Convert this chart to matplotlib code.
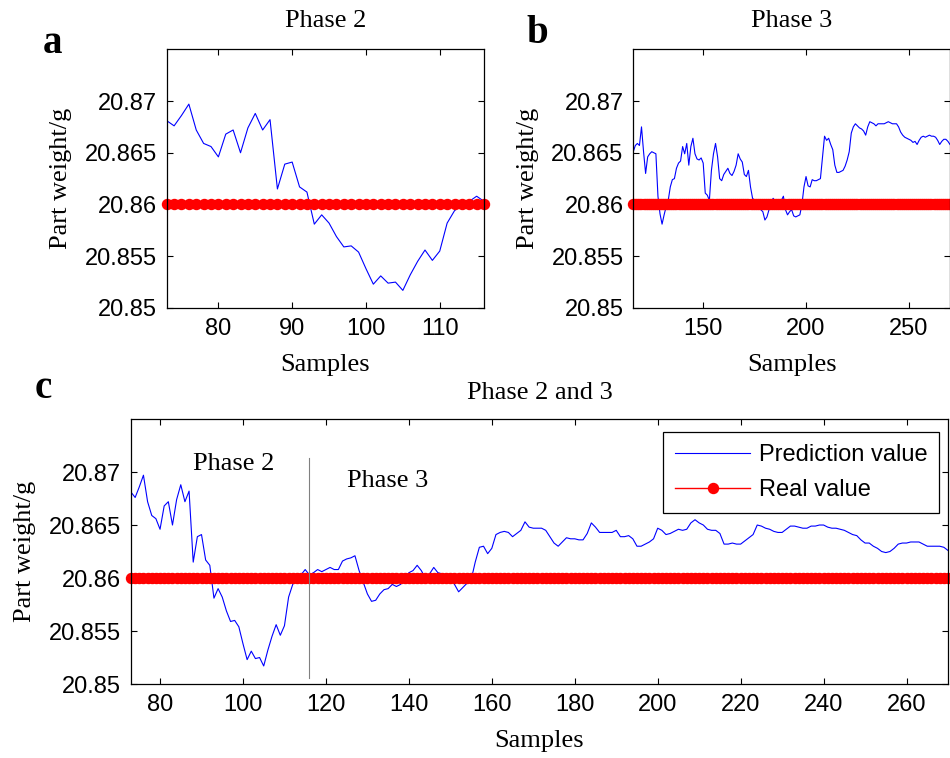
import numpy as np
import matplotlib
matplotlib.use('Agg')
import matplotlib.pyplot as plt

plt.rcParams['font.family'] = ['Liberation Sans', 'DejaVu Sans']
SERIF = ['Liberation Serif', 'DejaVu Serif']

# samples and measured part weight (g)
samples_p2 = np.arange(73, 117)
samples_p3 = np.arange(116, 271)
real_weight = 20.86

# prediction in phase 2 (samples 73..116)
pred_p2 = [20.8681, 20.8676, 20.8686, 20.8697, 20.8672, 20.8659, 20.8656, 20.8646, 20.8668, 20.8672,
           20.8650, 20.8674, 20.8688, 20.8672, 20.8682, 20.8615, 20.8639, 20.8641, 20.8617, 20.8612,
           20.8581, 20.8590, 20.8582, 20.8569, 20.8559, 20.8560, 20.8554, 20.8538, 20.8523, 20.8531,
           20.8524, 20.8525, 20.8517, 20.8532, 20.8545, 20.8556, 20.8546, 20.8555, 20.8582, 20.8594,
           20.8600, 20.8603, 20.8608, 20.8603]

# prediction in phase 3, model of panel b (samples 116..270)
pred_p3_b = [20.8651, 20.8657, 20.8659, 20.8657, 20.8675, 20.8651, 20.8630, 20.8646, 20.8649, 20.8651,
             20.8650, 20.8649, 20.8608, 20.8591, 20.8581, 20.8590, 20.8598, 20.8604, 20.8617, 20.8624,
             20.8625, 20.8635, 20.8640, 20.8642, 20.8656, 20.8649, 20.8659, 20.8638, 20.8656, 20.8664,
             20.8649, 20.8644, 20.8643, 20.8645, 20.8640, 20.8611, 20.8609, 20.8604, 20.8633, 20.8649,
             20.8659, 20.8646, 20.8625, 20.8623, 20.8629, 20.8632, 20.8635, 20.8630, 20.8628, 20.8632,
             20.8638, 20.8649, 20.8644, 20.8641, 20.8629, 20.8627, 20.8633, 20.8617, 20.8606, 20.8604,
             20.8604, 20.8600, 20.8595, 20.8593, 20.8585, 20.8588, 20.8595, 20.8601, 20.8606, 20.8603,
             20.8598, 20.8598, 20.8604, 20.8608, 20.8595, 20.8590, 20.8593, 20.8595, 20.8589, 20.8588,
             20.8589, 20.8590, 20.8600, 20.8617, 20.8627, 20.8618, 20.8617, 20.8624, 20.8623, 20.8623,
             20.8624, 20.8625, 20.8646, 20.8666, 20.8662, 20.8664, 20.8658, 20.8653, 20.8638, 20.8631,
             20.8631, 20.8632, 20.8633, 20.8637, 20.8643, 20.8651, 20.8669, 20.8675, 20.8678, 20.8676,
             20.8674, 20.8673, 20.8671, 20.8667, 20.8675, 20.8680, 20.8679, 20.8678, 20.8676, 20.8678,
             20.8678, 20.8678, 20.8678, 20.8679, 20.8680, 20.8679, 20.8678, 20.8678, 20.8678, 20.8675,
             20.8670, 20.8667, 20.8665, 20.8664, 20.8663, 20.8662, 20.8660, 20.8661, 20.8658, 20.8662,
             20.8665, 20.8666, 20.8665, 20.8666, 20.8667, 20.8666, 20.8666, 20.8665, 20.8662, 20.8658,
             20.8661, 20.8663, 20.8663, 20.8661, 20.8658]

# prediction in phase 3, model of panel c (samples 116..270)
pred_p3_c = [20.8603, 20.8605, 20.8608, 20.8606, 20.8608, 20.8610, 20.8608, 20.8608, 20.8616, 20.8618,
             20.8619, 20.8621, 20.8607, 20.8596, 20.8585, 20.8578, 20.8579, 20.8585, 20.8589, 20.8590,
             20.8594, 20.8592, 20.8594, 20.8599, 20.8605, 20.8607, 20.8612, 20.8607, 20.8600, 20.8604,
             20.8610, 20.8605, 20.8604, 20.8601, 20.8602, 20.8594, 20.8587, 20.8591, 20.8595, 20.8598,
             20.8615, 20.8629, 20.8630, 20.8623, 20.8628, 20.8641, 20.8643, 20.8644, 20.8643, 20.8639,
             20.8642, 20.8645, 20.8653, 20.8648, 20.8647, 20.8647, 20.8647, 20.8645, 20.8639, 20.8633,
             20.8630, 20.8634, 20.8638, 20.8637, 20.8637, 20.8636, 20.8636, 20.8642, 20.8652, 20.8648,
             20.8643, 20.8643, 20.8643, 20.8643, 20.8645, 20.8639, 20.8639, 20.8640, 20.8637, 20.8630,
             20.8630, 20.8632, 20.8634, 20.8637, 20.8647, 20.8645, 20.8641, 20.8642, 20.8644, 20.8646,
             20.8645, 20.8646, 20.8652, 20.8655, 20.8652, 20.8650, 20.8646, 20.8645, 20.8645, 20.8642,
             20.8632, 20.8632, 20.8633, 20.8632, 20.8632, 20.8635, 20.8638, 20.8641, 20.8650, 20.8649,
             20.8647, 20.8646, 20.8644, 20.8643, 20.8643, 20.8646, 20.8649, 20.8649, 20.8648, 20.8647,
             20.8647, 20.8649, 20.8649, 20.8650, 20.8650, 20.8648, 20.8647, 20.8647, 20.8646, 20.8645,
             20.8643, 20.8641, 20.8640, 20.8636, 20.8633, 20.8633, 20.8630, 20.8628, 20.8625, 20.8624,
             20.8625, 20.8628, 20.8632, 20.8633, 20.8633, 20.8634, 20.8634, 20.8634, 20.8632, 20.8630,
             20.8630, 20.8630, 20.8630, 20.8629, 20.8626]

yticks = [20.85, 20.855, 20.86, 20.865, 20.87]
ytick_labels = ['20.85', '20.855', '20.86', '20.865', '20.87']
xticks_a = [80, 90, 100, 110]
xticks_b = [150, 200, 250]
xticks_c = [80, 100, 120, 140, 160, 180, 200, 220, 240, 260]

samples_c = np.concatenate([samples_p2[:-1], samples_p3])
pred_c = pred_p2[:-1] + pred_p3_c


def style_axes(ax, xlim, xticks):
    ax.set_xlim(*xlim)
    ax.set_ylim(20.85, 20.875)
    ax.set_xticks(xticks)
    ax.set_yticks(yticks)
    ax.set_yticklabels(ytick_labels)
    ax.tick_params(direction='in', top=True, right=True, length=4, width=0.8,
                   labelsize=17, pad=7)
    for s in ax.spines.values():
        s.set_linewidth(0.9)


def draw(ax, x, pred):
    ax.plot(x, pred, color='#0000ff', lw=0.8, label='Prediction value')
    ax.plot(x, [real_weight] * len(x), color='#ff0000', lw=1, marker='o', ms=7.2,
            mec='#ff0000', label='Real value', clip_on=False)


fig = plt.figure(figsize=(9.5, 7.58), dpi=100)

ax_a = fig.add_axes([0.1755, 0.5937, 0.3340, 0.3413])
ax_b = fig.add_axes([0.6666, 0.5937, 0.3334, 0.3413])
ax_c = fig.add_axes([0.1379, 0.0976, 0.8600, 0.3496])

draw(ax_a, samples_p2, pred_p2)
style_axes(ax_a, (73, 116), xticks_a)
ax_a.set_title('Phase 2', family=SERIF, fontsize=19, y=1.11, va='center', pad=0)

draw(ax_b, samples_p3, pred_p3_b)
style_axes(ax_b, (116, 270), xticks_b)
ax_b.set_title('Phase 3', family=SERIF, fontsize=19, y=1.11, va='center', pad=0)

draw(ax_c, samples_c, pred_c)
style_axes(ax_c, (73, 270), xticks_c)
ax_c.set_title('Phase 2 and 3', family=SERIF, fontsize=19, y=1.098, va='center', pad=0)
ax_c.plot([116, 116], [20.8506, 20.8713], color='#808080', lw=0.8)
ax_c.text(97.8, 20.8708, 'Phase 2', family=SERIF, fontsize=19, ha='center', va='center')
ax_c.text(134.9, 20.8692, 'Phase 3', family=SERIF, fontsize=19, ha='center', va='center')
leg = ax_c.legend(loc='upper right', bbox_to_anchor=(0.989, 0.951), borderaxespad=0,
                  fontsize=17, fancybox=False, framealpha=1, edgecolor='black',
                  handlelength=3.2, handletextpad=0.35, labelspacing=0.55, borderpad=0.5)
leg.get_frame().set_linewidth(0.9)

for ax, ylx, xly in [(ax_a, -0.333, -0.22), (ax_b, -0.332, -0.22), (ax_c, -0.13, -0.215)]:
    ax.set_ylabel('Part weight/g', family=SERIF, fontsize=19, va='center')
    ax.set_xlabel('Samples', family=SERIF, fontsize=19, va='center')
    ax.yaxis.set_label_coords(ylx, 0.5)
    ax.xaxis.set_label_coords(0.5, xly)

for letter, px, py in [('a', 52, 53), ('b', 537, 43), ('c', 43, 398)]:
    fig.text(px / 950, 1 - py / 758, letter, family=SERIF, fontsize=28, fontweight='bold',
             ha='center', va='baseline')

fig.savefig('out.png', dpi=100)
